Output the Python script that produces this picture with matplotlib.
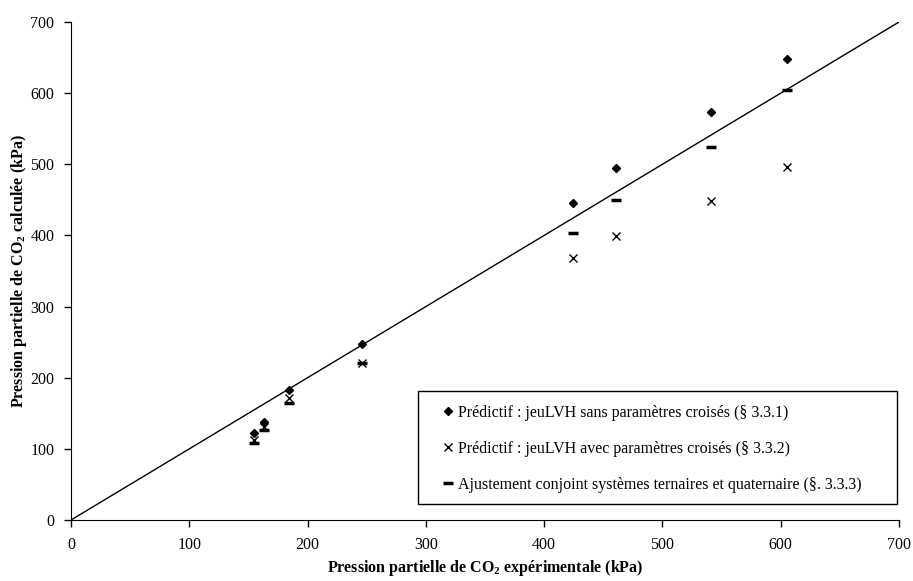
import matplotlib
matplotlib.use('Agg')
import matplotlib.pyplot as plt
from matplotlib.patches import Rectangle

plt.rcParams['font.family'] = ['Liberation Serif', 'DejaVu Serif']
plt.rcParams['mathtext.fontset'] = 'custom'
plt.rcParams['mathtext.rm'] = 'Liberation Serif'
plt.rcParams['mathtext.bf'] = 'Liberation Serif:bold'

# pression experimentale (kPa)
p_exp = [155, 163, 184, 246, 424, 461, 541, 605]
# predictif sans parametres croises
p_sans = [122, 138, 183, 248, 445, 495, 573, 648]
# predictif avec parametres croises
p_avec = [112, 131, 171, 221, 368, 399, 449, 496]
# ajustement conjoint
p_ajust = [108, 126, 164, 220, 403, 450, 525, 605]

labels = ['Prédictif : jeuLVH sans paramètres croisés (§ 3.3.1)',
          'Prédictif : jeuLVH avec paramètres croisés (§ 3.3.2)',
          'Ajustement conjoint systèmes ternaires et quaternaire (§. 3.3.3)']

fs = 11.5

fig = plt.figure(figsize=(9.13, 5.81), dpi=100)
ax = fig.add_axes([71 / 913, 61 / 581, 828 / 913, 498 / 581])

ax.plot([0, 700], [0, 700], color='black', lw=1)
ax.plot(p_exp, p_sans, 'D', color='black', ms=4.5, ls='none', label=labels[0])
ax.plot(p_exp, p_avec, 'x', color='black', ms=6, mew=1, ls='none', label=labels[1])
ax.plot(p_exp, p_ajust, '_', color='black', ms=7, mew=2.5, ls='none', label=labels[2])

ax.set_xlim(0, 700)
ax.set_ylim(0, 700)
ax.set_xticks(range(0, 701, 100))
ax.set_yticks(range(0, 701, 100))
ax.spines['top'].set_visible(False)
ax.spines['right'].set_visible(False)
ax.tick_params(labelsize=fs, length=5, width=1, direction='out', pad=7)

ax.set_xlabel(r'Pression partielle de CO$_\mathbf{2}$ expérimentale (kPa)',
              fontsize=fs, fontweight='bold', labelpad=4)
ax.set_ylabel(r'Pression partielle de CO$_\mathbf{2}$ calculée (kPa)',
              fontsize=fs, fontweight='bold', labelpad=1)

# cadre de la legende
box = Rectangle((418 / 913, 77 / 581), 479 / 913, 113 / 581,
                transform=fig.transFigure, fill=False, edgecolor='black', lw=1)
fig.patches.append(box)

leg = fig.legend(loc='upper left', bbox_to_anchor=(444 / 913, 1 - 405 / 581),
                 frameon=False, fontsize=fs, handlelength=0.5,
                 handletextpad=0.4, labelspacing=1.25, borderpad=0, borderaxespad=0)

fig.savefig('out.png', dpi=100)
